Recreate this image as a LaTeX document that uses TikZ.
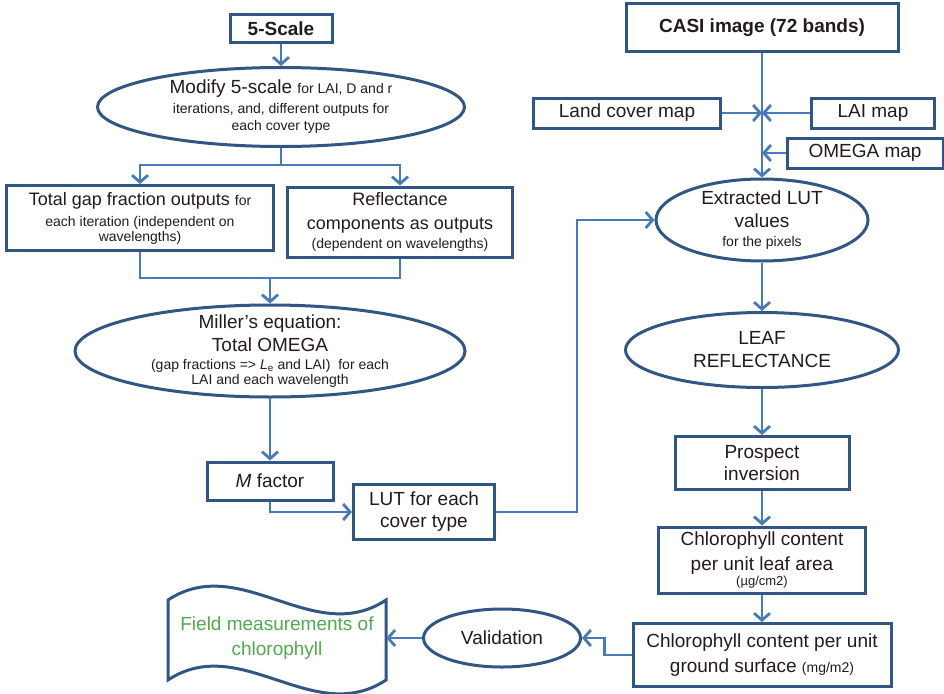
\documentclass[tikz,border=0pt]{standalone}
\usepackage{fontspec}
\setmainfont{Liberation Sans}
\usetikzlibrary{shapes.geometric, arrows.meta}
\definecolor{boxblue}{RGB}{50,86,132}
\definecolor{lineblue}{RGB}{70,122,185}
\definecolor{txtgray}{RGB}{35,27,27}
\definecolor{fieldgreen}{RGB}{80,168,80}
\newcommand{\flowbig}{\fontsize{19}{22}\selectfont}
\newcommand{\flowmid}{\fontsize{18}{22}\selectfont}
\newcommand{\flowsmall}{\fontsize{14}{16}\selectfont}
\newcommand{\flowtiny}{\fontsize{13}{15}\selectfont}

\begin{document}
\begin{tikzpicture}[x=1pt, y=-1pt,
  box/.style={rectangle, draw=boxblue, line width=3pt, text=txtgray, align=center, inner sep=1pt, font=\flowbig},
  oval/.style={ellipse, draw=boxblue, line width=3pt, text=txtgray, align=center, inner sep=0pt, font=\flowbig},
  flow/.style={draw=lineblue, line width=2.8pt, -{Straight Barb[length=7pt, width=16pt]}},
  link/.style={draw=lineblue, line width=2.8pt}]
  \useasboundingbox (0, 0) rectangle (944, 693);
  % Nodes, left column
  \node (scale) [box, font=\flowbig\bfseries, minimum width=102, minimum height=28] at (281, 29) {5-Scale};
  \node (modify) [oval, minimum width=367, minimum height=79] at (281, 107)
    {Modify 5-scale {\flowsmall for LAI, D and r}\\[-2pt]
     {\flowsmall iterations, and, different outputs for}\\[-5pt]
     {\flowsmall each cover type}};
  \node (gap) [box, font=\flowmid, minimum width=267, minimum height=65] at (140, 218)
    {Total gap fraction outputs {\flowsmall for}\\[-1pt]
     {\flowsmall each iteration (independent on}\\[-7pt]
     {\flowsmall wavelengths)}};
  \node (refl) [box, font=\flowmid, minimum width=225, minimum height=70] at (400, 222)
    {Reflectance\\[2pt]
     components as outputs\\[-3pt]
     {\flowsmall (dependent on wavelengths)}};
  \node (miller) [oval, inner ysep=-5pt, minimum width=390, minimum height=92] at (270, 351)
    {Miller’s equation:\\[1pt]
     Total OMEGA\\[-4pt]
     {\flowsmall (gap fractions => \textit{L}\textsubscript{e} and LAI)\ \ for each}\\[-7pt]
     {\flowsmall LAI and each wavelength}};
  \node (mfactor) [box, minimum width=126, minimum height=38] at (270, 481) {\textit{M} factor};
  \node (lut) [box, minimum width=141, minimum height=55] at (424, 512) {LUT for each\\cover type};
  % Nodes, right column
  \node (casi) [box, font=\flowbig\bfseries, minimum width=272, minimum height=48] at (762, 28) {CASI image (72 bands)};
  \node (land) [box, minimum width=187, minimum height=30] at (627, 113) {Land cover map};
  \node (lai) [box, minimum width=123, minimum height=30] at (873, 113) {LAI map};
  \node (omega) [box, minimum width=156, minimum height=30] at (865, 153) {OMEGA map};
  \node (extr) [oval, inner ysep=-1pt, minimum width=212, minimum height=82] at (762, 220)
    {Extracted LUT\\[1pt]
     values\\[-3pt]
     {\flowsmall for the pixels}};
  \node (leaf) [oval, minimum width=273, minimum height=75] at (762, 350) {LEAF\\[1pt]REFLECTANCE};
  \node (prospect) [box, minimum width=174, minimum height=53] at (762, 463) {Prospect\\inversion};
  \node (chl1) [box, minimum width=207, minimum height=66] at (762, 560)
    {Chlorophyll content\\[3pt]
     per unit leaf area\\[-7pt]
     {\flowtiny (µg/cm2)}};
  \node (chl2) [box, minimum width=258, minimum height=63] at (762, 655)
    {Chlorophyll content per unit\\[3pt]
     ground surface {\flowsmall (mg/m2)}};
  % Nodes, bottom row
  \node (valid) [oval, minimum width=157, minimum height=58] at (502, 638) {Validation};
  \node (field) [text=fieldgreen, align=center, font=\flowbig, minimum width=218, minimum height=80] at (277, 638)
    {Field measurements of\\[3pt]chlorophyll};
  \draw[boxblue, line width=3pt] (168, 600) .. controls (240.7, 552) and (313.3, 648) .. (386, 600)
    -- (386, 680) .. controls (313.3, 728) and (240.7, 632) .. (168, 680) -- cycle;
  % Arrows, left column
  \coordinate (split) at (281, 165);
  \coordinate (merge) at (270, 278);
  \draw[flow] (scale) -- (modify);
  \draw[link] (modify.south) -- (split);
  \draw[flow] (split) -| (gap.north);
  \draw[flow] (split) -| (refl.north);
  \draw[link] (gap.south) |- (merge);
  \draw[link] (refl.south) |- (merge);
  \draw[flow] (merge) -- (miller.north);
  \draw[flow] (miller) -- (mfactor);
  \draw[flow] (mfactor.south) |- (lut.west);
  \draw[flow] (lut.east) -- ++(81, 0) |- (extr.west);
  % Arrows, right column
  \draw[flow] (casi) -- (extr);
  \draw[flow] (land.east) -- (land.east -| casi.south);
  \draw[flow] (lai.west) -- (lai.west -| casi.south);
  \draw[flow] (omega.west) -- (omega.west -| casi.south);
  \draw[flow] (extr) -- (leaf);
  \draw[flow] (leaf) -- (prospect);
  \draw[flow] (prospect) -- (chl1);
  \draw[flow] (chl1) -- (chl2);
  \draw[flow] (chl2.west) -- ++(-27, 0) |- (valid.east);
  \draw[flow] (valid) -- (field);
\end{tikzpicture}
\end{document}
